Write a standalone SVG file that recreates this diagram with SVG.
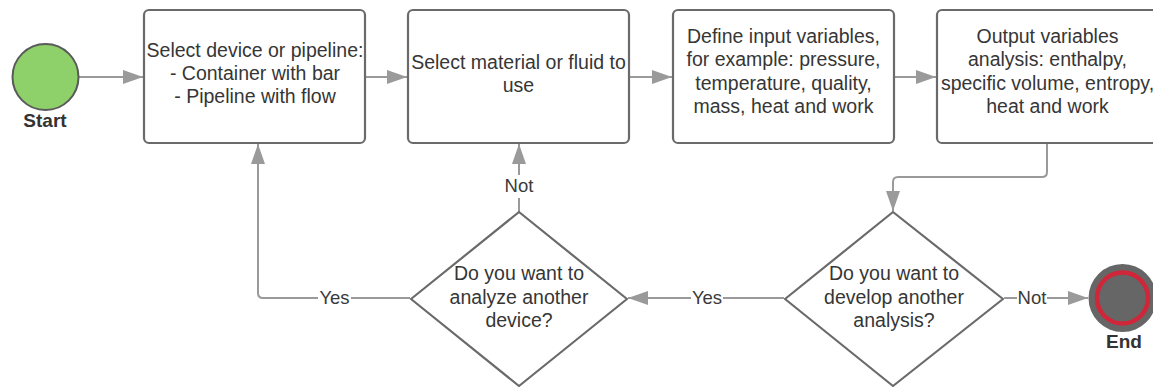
<svg xmlns="http://www.w3.org/2000/svg" width="1153" height="387" viewBox="0 0 1153 387">
<defs>
<style>
.box{fill:#fff;stroke:#6a6a6a;stroke-width:2.2}
.t{font-family:"Liberation Sans",Arial,sans-serif;font-size:19.5px;fill:#363636;text-anchor:middle}
.lbl{font-family:"Liberation Sans",Arial,sans-serif;font-size:18.5px;fill:#3a3a3a;text-anchor:middle}
.b{font-family:"Liberation Sans",Arial,sans-serif;font-size:19px;font-weight:bold;fill:#333;text-anchor:middle}
.c{fill:none;stroke:#9a9a9a;stroke-width:2}
</style>
<marker id="ah" viewBox="0 0 20 14" refX="20" refY="7" markerWidth="20" markerHeight="14" markerUnits="userSpaceOnUse" orient="auto">
<polygon points="0,0 20,7 0,14" fill="#9a9a9a"/>
</marker>
</defs>
<rect width="1153" height="387" fill="#fff"/>
<g id="connectors">
<line class="c" x1="79" y1="77" x2="143" y2="77" marker-end="url(#ah)"/>
<line class="c" x1="366" y1="77" x2="407" y2="77" marker-end="url(#ah)"/>
<line class="c" x1="630" y1="77" x2="672" y2="77" marker-end="url(#ah)"/>
<line class="c" x1="895" y1="77" x2="936" y2="77" marker-end="url(#ah)"/>
<path class="c" d="M1047,144 V172 Q1047,177 1042,177 H898 Q893,177 893,182 V211" marker-end="url(#ah)"/>
<line class="c" x1="1004" y1="298" x2="1017" y2="298"/>
<line class="c" x1="1047" y1="298" x2="1088" y2="298" marker-end="url(#ah)"/>
<line class="c" x1="784" y1="298" x2="723" y2="298"/>
<line class="c" x1="691" y1="298" x2="628" y2="298" marker-end="url(#ah)"/>
<line class="c" x1="519" y1="212" x2="519" y2="198"/>
<line class="c" x1="519" y1="175" x2="519" y2="144" marker-end="url(#ah)"/>
<line class="c" x1="410" y1="298" x2="351" y2="298"/>
<path class="c" d="M318,298 H263 Q258,298 258,293 V144" marker-end="url(#ah)"/>
<text class="lbl" x="1032" y="304">Not</text>
<text class="lbl" x="707" y="304">Yes</text>
<text class="lbl" x="519" y="192">Not</text>
<text class="lbl" x="334.5" y="304">Yes</text>
</g>
<g id="start">
<circle cx="45.5" cy="77" r="33" fill="#8ed16a" stroke="#5a5a5a" stroke-width="2"/>
<text class="b" x="45" y="127">Start</text>
</g>
<g id="select-device">
<rect class="box" x="144" y="10" width="221" height="133" rx="5"/>
<text class="t" x="255" y="57">Select device or pipeline:</text>
<text class="t" x="255" y="80">- Container with bar</text>
<text class="t" x="255" y="103">- Pipeline with flow</text>
</g>
<g id="select-material">
<rect class="box" x="408" y="10" width="221" height="133" rx="5"/>
<text class="t" x="518.5" y="68.5">Select material or fluid to</text>
<text class="t" x="518.5" y="92">use</text>
</g>
<g id="define-input">
<rect class="box" x="673" y="10" width="221" height="133" rx="5"/>
<text class="t" x="783.5" y="43">Define input variables,</text>
<text class="t" x="783.5" y="66.3">for example: pressure,</text>
<text class="t" x="783.5" y="89.7">temperature, quality,</text>
<text class="t" x="783.5" y="113">mass, heat and work</text>
</g>
<g id="output-analysis">
<rect class="box" x="937" y="10" width="221" height="133" rx="5"/>
<text class="t" x="1047.5" y="43">Output variables</text>
<text class="t" x="1047.5" y="66.3">analysis: enthalpy,</text>
<text class="t" x="1047.5" y="89.7">specific volume, entropy,</text>
<text class="t" x="1047.5" y="113">heat and work</text>
</g>
<g id="develop-another">
<polygon class="box" points="893,212 1003,299 893,386 785,299" stroke-linejoin="round"/>
<text class="t" x="894" y="280">Do you want to</text>
<text class="t" x="894" y="303.5">develop another</text>
<text class="t" x="894" y="327">analysis?</text>
</g>
<g id="analyze-another">
<polygon class="box" points="519,212 627,299 519,386 411,299" stroke-linejoin="round"/>
<text class="t" x="519" y="280">Do you want to</text>
<text class="t" x="519" y="303.5">analyze another</text>
<text class="t" x="519" y="327">device?</text>
</g>
<g id="end">
<circle cx="1122.5" cy="298" r="34" fill="#666"/>
<circle cx="1122.5" cy="298" r="25.5" fill="none" stroke="#d0263a" stroke-width="4.5"/>
<text class="b" x="1124" y="348">End</text>
</g>
</svg>
